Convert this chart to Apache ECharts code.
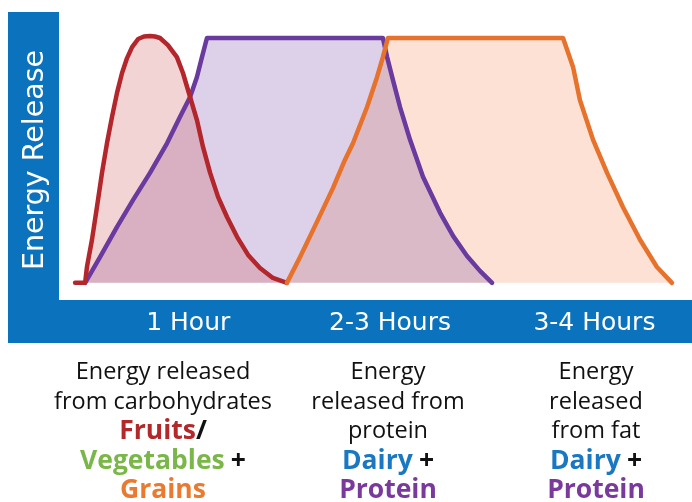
<!DOCTYPE html>
<html>
<head>
<meta charset="utf-8">
<script src="https://cdn.jsdelivr.net/npm/echarts@6/dist/echarts.min.js"></script>
<style>
  html, body { margin: 0; padding: 0; background: #fff; }
  #energy_chart { width: 692px; height: 502px; }
</style>
</head>
<body>
<div id="energy_chart"></div>
<script>
   // time in minutes (0-240 across the plot), energy in % of peak
   var carbTime   = [6.1, 9.9, 10.6, 12.5, 14.4, 16.3, 18.2, 20.1, 22.0, 23.9, 25.8, 27.7, 30.0, 32.2, 34.5, 36.4, 38.3, 41.3, 44.7, 47.0, 49.7, 52.3, 54.6, 57.3, 60.3, 63.7, 67.5, 71.7, 76.2, 81.1, 86.4];
   var carbEnergy = [0, 0, 6.5, 17.6, 31.0, 44.9, 57.1, 67.8, 77.6, 85.7, 91.8, 96.3, 99.6, 100.6, 100.8, 100.6, 100, 97.1, 92.2, 85.7, 75.9, 66.5, 55.5, 44.9, 35.1, 26.9, 18.8, 11.4, 6.1, 2.0, 0];

   var proteinTime   = [9.9, 15.6, 22.0, 28.1, 34.5, 41.0, 45.9, 49.7, 52.3, 54.2, 56.1, 122.8, 124.4, 126.6, 129.3, 133.1, 138.0, 144.5, 149.4, 154.7, 159.6, 164.2];
   var proteinEnergy = [0, 10.6, 22.9, 33.9, 44.9, 57.1, 67.8, 75.9, 84.1, 92.2, 100, 100, 92.2, 82.9, 71.8, 58.4, 43.3, 28.6, 19.2, 11.0, 4.9, 0];

   var fatTime   = [86.4, 91.4, 97.8, 103.9, 108.4, 111.5, 116.8, 120.6, 122.8, 124.7, 191.1, 194.9, 197.5, 202.5, 207.8, 213.8, 220.3, 226.7, 232.4];
   var fatEnergy = [0, 10.6, 24.9, 38.8, 50.2, 57.1, 71.8, 84.1, 92.2, 100, 100, 88.2, 74.7, 58.4, 44.9, 31.0, 17.6, 6.5, 0];

   var tickLabels = ['1 Hour', '2-3 Hours', '3-4 Hours'];
   var tickTimes  = [49, 125.5, 203];

   var energyChart = echarts.init(document.getElementById('energy_chart'));

   function pairs(xs, ys){
      var out = [];
      for (var i = 0; i < xs.length; i++) out.push([xs[i], ys[i]]);
      return out;
   }
   function areaSeries(xs, ys, fill){
      return { type:'line', data:pairs(xs, ys), symbol:'none', z:1,
               lineStyle:{ width:0 }, areaStyle:{ color:fill, opacity:1 } };
   }
   function lineSeries(xs, ys, color, z){
      return { type:'line', data:pairs(xs, ys), symbol:'none', z:z,
               lineStyle:{ width:4.5, color:color, cap:'round', join:'round' } };
   }

   var font = '"Open Sans", sans-serif';
   var blue = '#0b73bd';
   function boldStyle(color){
      return { fill:color, fontSize:26.5, fontWeight:'bold', fontFamily:font, lineHeight:29.5 };
   }

   var energy_option = {
      animation: false,
      grid: { left:59, right:0, top:20, bottom:202 },
      xAxis: {
         type:'value', min:0, max:240,
         axisLine:{ show:false }, axisTick:{ show:false }, splitLine:{ show:false },
         axisLabel:{
            customValues: tickTimes,
            margin: 11,
            color:'#fff', fontSize:25, fontFamily:'"DejaVu Sans", sans-serif',
            formatter: function(v){
               var best = 0;
               for (var i = 1; i < tickTimes.length; i++) {
                  if (Math.abs(tickTimes[i] - v) < Math.abs(tickTimes[best] - v)) best = i;
               }
               return tickLabels[best];
            }
         }
      },
      yAxis: {
         type:'value', min:-7, max:107.35,
         name:'Energy Release', nameLocation:'middle', nameGap:9, nameRotate:90,
         nameTextStyle:{ color:'#fff', fontSize:28.5, fontFamily:'"DejaVu Sans", sans-serif' },
         axisLine:{ show:false }, axisTick:{ show:false }, axisLabel:{ show:false }, splitLine:{ show:false }
      },
      graphic: [
         { type:'rect', z:-10, shape:{ x:8, y:12, width:51, height:331 }, style:{ fill:blue } },
         { type:'rect', z:-10, shape:{ x:8, y:300, width:684, height:43 }, style:{ fill:blue } },
         {
            type:'text', x:163, y:358, z:100,
            style:{
               text:'Energy released\nfrom carbohydrates\n{r|Fruits}{k|/}\n{g|Vegetables} {k|+}\n{o|Grains}',
               align:'center', verticalAlign:'top', fill:'#111', fontSize:23.5, fontFamily:font, lineHeight:29.5,
               rich:{ r:boldStyle('#b3282b'), g:boldStyle('#7ab648'), o:boldStyle('#ea7a2f'), k:boldStyle('#111') }
            }
         },
         {
            type:'text', x:388, y:358, z:100,
            style:{
               text:'Energy\nreleased from\nprotein\n{d|Dairy} {k|+}\n{p|Protein}',
               align:'center', verticalAlign:'top', fill:'#111', fontSize:23.5, fontFamily:font, lineHeight:29.5,
               rich:{ d:boldStyle('#1a78c2'), p:boldStyle('#7a3a9c'), k:boldStyle('#111') }
            }
         },
         {
            type:'text', x:596, y:358, z:100,
            style:{
               text:'Energy\nreleased\nfrom fat\n{d|Dairy} {k|+}\n{p|Protein}',
               align:'center', verticalAlign:'top', fill:'#111', fontSize:23.5, fontFamily:font, lineHeight:29.5,
               rich:{ d:boldStyle('#1a78c2'), p:boldStyle('#7a3a9c'), k:boldStyle('#111') }
            }
         }
      ],
      series: [
         areaSeries(fatTime, fatEnergy, 'rgba(248,120,60,0.22)'),
         areaSeries(proteinTime, proteinEnergy, 'rgba(106,58,160,0.23)'),
         areaSeries(carbTime, carbEnergy, 'rgba(200,60,60,0.22)'),
         lineSeries(proteinTime, proteinEnergy, '#6a3a9f', 3),
         lineSeries(carbTime, carbEnergy, '#b3262b', 4),
         lineSeries(fatTime, fatEnergy, '#e6722c', 5)
      ]
   };
   energyChart.setOption(energy_option);
</script>
</body>
</html>
